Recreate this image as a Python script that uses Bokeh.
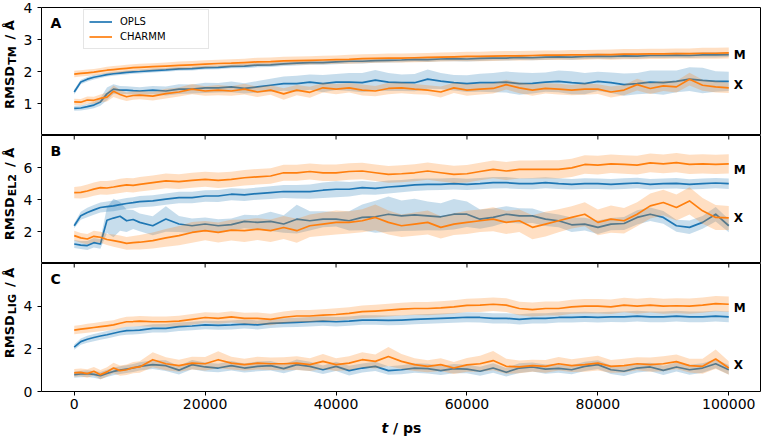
import math
import numpy as np
from bokeh.plotting import figure
from bokeh.layouts import column, row
from bokeh.models import Range1d, FixedTicker, Label, Legend, LegendItem
from bokeh.embed import file_html
from bokeh.resources import INLINE

# ---------------- data ----------------
t_ps = [0, 1000, 2000, 3000, 4000, 5000, 6000, 7000, 8000, 9000, 10000,
        12000, 14000, 16000, 18000, 20000, 22000, 24000, 26000, 28000,
        30000, 32000, 34000, 36000, 38000, 40000, 42000, 44000, 46000,
        48000, 50000, 52000, 54000, 56000, 58000, 60000, 62000, 64000,
        66000, 68000, 70000, 72000, 74000, 76000, 78000, 80000, 82000,
        84000, 86000, 88000, 90000, 92000, 94000, 96000, 98000, 100000]

# Panel A (RMSD TM)
opls_M_A = [1.36, 1.67, 1.76, 1.82, 1.86, 1.90, 1.93, 1.95, 1.97, 1.99, 2.00,
            2.03, 2.05, 2.08, 2.09, 2.12, 2.13, 2.16, 2.17, 2.20,
            2.21, 2.24, 2.26, 2.28, 2.28, 2.30, 2.32, 2.32, 2.34,
            2.35, 2.36, 2.38, 2.37, 2.39, 2.40, 2.39, 2.41, 2.42,
            2.42, 2.44, 2.43, 2.45, 2.46, 2.45, 2.47, 2.48, 2.47,
            2.49, 2.48, 2.50, 2.50, 2.51, 2.50, 2.52, 2.52, 2.53]
charmm_M_A = [1.92, 1.94, 1.96, 1.98, 2.01, 2.04, 2.06, 2.08, 2.10, 2.12, 2.13,
              2.15, 2.17, 2.19, 2.21, 2.23, 2.25, 2.26, 2.28, 2.30,
              2.31, 2.33, 2.34, 2.35, 2.36, 2.37, 2.38, 2.40, 2.41,
              2.42, 2.42, 2.43, 2.44, 2.45, 2.46, 2.47, 2.47, 2.48,
              2.49, 2.49, 2.50, 2.51, 2.51, 2.52, 2.52, 2.53, 2.53,
              2.54, 2.54, 2.55, 2.55, 2.56, 2.56, 2.57, 2.57, 2.58]
opls_X_A = [0.85, 0.86, 0.90, 0.95, 1.05, 1.30, 1.45, 1.42, 1.42, 1.40, 1.39,
            1.42, 1.39, 1.45, 1.45, 1.49, 1.49, 1.52, 1.47, 1.52,
            1.57, 1.62, 1.62, 1.67, 1.62, 1.67, 1.67, 1.65, 1.73,
            1.67, 1.65, 1.65, 1.76, 1.70, 1.65, 1.62, 1.65, 1.65,
            1.67, 1.62, 1.63, 1.67, 1.69, 1.65, 1.62, 1.69, 1.65,
            1.59, 1.62, 1.67, 1.65, 1.69, 1.76, 1.72, 1.69, 1.69]
charmm_X_A = [1.05, 1.04, 1.11, 1.10, 1.16, 1.20, 1.38, 1.28, 1.21, 1.25, 1.26,
              1.23, 1.31, 1.36, 1.45, 1.39, 1.42, 1.39, 1.45, 1.36,
              1.42, 1.30, 1.42, 1.35, 1.49, 1.45, 1.49, 1.42, 1.39,
              1.47, 1.49, 1.45, 1.42, 1.36, 1.49, 1.42, 1.45, 1.47,
              1.59, 1.49, 1.42, 1.47, 1.45, 1.42, 1.45, 1.45, 1.36,
              1.42, 1.59, 1.47, 1.55, 1.52, 1.76, 1.57, 1.52, 1.49]
sd_opls_M_A = [0.08, 0.07, 0.07, 0.07, 0.06, 0.06, 0.06, 0.06, 0.06, 0.06, 0.06,
               0.06, 0.06, 0.06, 0.06, 0.06, 0.06, 0.06, 0.07, 0.07,
               0.07, 0.07, 0.07, 0.07, 0.07, 0.07, 0.07, 0.07, 0.07,
               0.07, 0.07, 0.07, 0.07, 0.07, 0.08, 0.08, 0.08, 0.08,
               0.08, 0.08, 0.08, 0.08, 0.08, 0.08, 0.08, 0.08, 0.08,
               0.08, 0.08, 0.08, 0.08, 0.08, 0.08, 0.08, 0.08, 0.08]
sd_charmm_M_A = [0.10, 0.10, 0.10, 0.10, 0.10, 0.11, 0.11, 0.11, 0.11, 0.11, 0.11,
                 0.11, 0.11, 0.12, 0.12, 0.12, 0.12, 0.12, 0.12, 0.13,
                 0.13, 0.13, 0.13, 0.13, 0.13, 0.13, 0.14, 0.14, 0.14,
                 0.14, 0.14, 0.14, 0.14, 0.14, 0.14, 0.15, 0.15, 0.15,
                 0.15, 0.15, 0.15, 0.15, 0.15, 0.15, 0.15, 0.15, 0.16,
                 0.16, 0.16, 0.16, 0.16, 0.16, 0.16, 0.17, 0.17, 0.17]
sd_opls_X_A = [0.08, 0.08, 0.09, 0.10, 0.12, 0.20, 0.15, 0.13, 0.12, 0.12, 0.12,
               0.13, 0.14, 0.15, 0.14, 0.16, 0.15, 0.17, 0.16, 0.18,
               0.20, 0.22, 0.25, 0.24, 0.27, 0.25, 0.28, 0.30, 0.32,
               0.28, 0.26, 0.27, 0.30, 0.25, 0.24, 0.26, 0.28, 0.30,
               0.33, 0.35, 0.32, 0.30, 0.34, 0.36, 0.33, 0.30, 0.32,
               0.35, 0.33, 0.36, 0.38, 0.34, 0.37, 0.40, 0.32, 0.30]
sd_charmm_X_A = [0.10, 0.10, 0.11, 0.11, 0.12, 0.14, 0.18, 0.15, 0.13, 0.13, 0.13,
                 0.14, 0.15, 0.14, 0.16, 0.15, 0.16, 0.15, 0.17, 0.16,
                 0.15, 0.18, 0.16, 0.17, 0.15, 0.16, 0.15, 0.17, 0.16,
                 0.18, 0.17, 0.16, 0.15, 0.17, 0.16, 0.18, 0.17, 0.16,
                 0.15, 0.17, 0.18, 0.16, 0.17, 0.16, 0.18, 0.15, 0.17,
                 0.16, 0.18, 0.17, 0.16, 0.18, 0.20, 0.17, 0.18, 0.16]

# Panel B (RMSD EL2)
opls_M_B = [2.36, 2.98, 3.19, 3.35, 3.50, 3.55, 3.60, 3.68, 3.75, 3.80, 3.87,
            3.91, 4.02, 4.12, 4.12, 4.22, 4.22, 4.33, 4.29, 4.37,
            4.43, 4.50, 4.49, 4.49, 4.58, 4.64, 4.64, 4.74, 4.70,
            4.78, 4.84, 4.91, 4.95, 4.95, 4.99, 4.95, 4.99, 5.05,
            5.05, 4.99, 4.99, 5.05, 4.99, 4.95, 4.99, 4.99, 4.95,
            4.99, 5.03, 4.95, 4.99, 5.01, 4.95, 4.99, 5.03, 4.99]
charmm_M_B = [4.43, 4.45, 4.53, 4.65, 4.74, 4.72, 4.78, 4.85, 4.91, 4.88, 4.95,
              5.05, 5.16, 5.12, 5.20, 5.26, 5.20, 5.26, 5.36, 5.42,
              5.47, 5.67, 5.67, 5.75, 5.67, 5.67, 5.75, 5.78, 5.67,
              5.57, 5.61, 5.67, 5.78, 5.67, 5.57, 5.61, 5.75, 5.88,
              5.78, 5.88, 5.88, 5.88, 5.88, 5.98, 6.19, 6.15, 6.23,
              6.19, 6.15, 6.29, 6.23, 6.31, 6.19, 6.23, 6.19, 6.23]
opls_X_B = [1.22, 1.15, 1.12, 1.30, 1.22, 2.70, 2.84, 2.95, 2.67, 2.75, 2.57,
            2.36, 2.78, 2.47, 2.36, 2.47, 2.36, 2.43, 2.63, 2.57,
            2.63, 2.47, 2.77, 2.67, 2.77, 2.77, 2.67, 2.88, 2.92,
            3.08, 2.98, 3.04, 2.98, 2.92, 3.08, 3.08, 2.77, 2.88,
            3.08, 2.98, 2.98, 2.77, 2.67, 2.42, 2.46, 2.26, 2.46,
            2.50, 2.88, 3.08, 2.88, 2.36, 2.26, 2.57, 3.08, 2.36]
charmm_X_B = [1.74, 1.60, 1.53, 1.70, 1.64, 1.50, 1.43, 1.35, 1.26, 1.30, 1.33,
              1.43, 1.60, 1.74, 1.94, 2.05, 1.94, 2.09, 2.05, 2.15,
              2.05, 2.25, 2.05, 2.36, 2.46, 2.57, 2.57, 2.67, 2.88,
              2.57, 2.36, 2.46, 2.57, 2.26, 2.46, 2.57, 2.67, 2.77,
              2.57, 2.67, 2.26, 2.46, 2.67, 2.88, 3.08, 2.57, 2.77,
              2.67, 3.08, 3.60, 3.81, 3.50, 3.91, 3.29, 2.88, 2.85]
sd_opls_M_B = [0.15, 0.25, 0.30, 0.30, 0.32, 0.32, 0.33, 0.33, 0.34, 0.34, 0.35,
               0.35, 0.35, 0.36, 0.36, 0.36, 0.37, 0.37, 0.38, 0.38,
               0.40, 0.40, 0.42, 0.45, 0.48, 0.50, 0.45, 0.42, 0.40,
               0.40, 0.38, 0.38, 0.37, 0.36, 0.36, 0.35, 0.35, 0.36,
               0.35, 0.34, 0.35, 0.34, 0.34, 0.33, 0.34, 0.33, 0.33,
               0.34, 0.33, 0.33, 0.32, 0.33, 0.32, 0.33, 0.32, 0.33]
sd_charmm_M_B = [0.35, 0.38, 0.40, 0.42, 0.42, 0.43, 0.43, 0.44, 0.44, 0.45, 0.45,
                 0.45, 0.46, 0.46, 0.47, 0.47, 0.48, 0.48, 0.48, 0.49,
                 0.49, 0.50, 0.50, 0.50, 0.51, 0.51, 0.52, 0.52, 0.52,
                 0.53, 0.53, 0.53, 0.54, 0.54, 0.54, 0.55, 0.55, 0.55,
                 0.56, 0.56, 0.56, 0.57, 0.57, 0.57, 0.58, 0.58, 0.58,
                 0.58, 0.59, 0.59, 0.59, 0.60, 0.60, 0.60, 0.60, 0.60]
sd_opls_X_B = [0.25, 0.25, 0.28, 0.30, 0.30, 0.80, 1.20, 0.90, 0.70, 0.60, 0.55,
               0.60, 0.80, 0.50, 0.45, 0.40, 0.40, 0.38, 0.42, 0.45,
               0.60, 0.55, 0.90, 0.60, 0.50, 0.45, 0.60, 0.80, 1.00,
               1.10, 0.95, 1.00, 0.90, 0.85, 0.95, 0.80, 0.60, 0.55,
               0.50, 0.48, 0.45, 0.42, 0.40, 0.45, 0.40, 0.42, 0.38,
               0.40, 0.45, 0.42, 0.40, 0.38, 0.42, 0.40, 0.45, 0.40]
sd_charmm_X_B = [0.30, 0.30, 0.32, 0.35, 0.35, 0.35, 0.38, 0.40, 0.40, 0.42, 0.45,
                 0.50, 0.55, 0.60, 0.65, 0.60, 0.62, 0.65, 0.70, 0.68,
                 0.70, 0.72, 0.75, 0.70, 0.72, 0.75, 0.70, 0.72, 0.80,
                 0.75, 0.70, 0.72, 0.75, 0.70, 0.68, 0.72, 0.70, 0.75,
                 0.72, 0.70, 0.75, 0.78, 0.72, 0.70, 0.75, 0.80, 0.85,
                 0.80, 0.75, 0.78, 0.80, 0.82, 0.85, 0.80, 0.78, 0.75]

# Panel C (RMSD LIG)
opls_M_C = [2.08, 2.34, 2.45, 2.53, 2.60, 2.66, 2.73, 2.80, 2.85, 2.86, 2.88,
            2.96, 2.96, 3.04, 3.07, 3.12, 3.10, 3.12, 3.16, 3.12,
            3.19, 3.22, 3.24, 3.27, 3.30, 3.27, 3.30, 3.35, 3.35,
            3.33, 3.35, 3.38, 3.40, 3.43, 3.45, 3.48, 3.47, 3.43,
            3.43, 3.38, 3.43, 3.43, 3.47, 3.47, 3.50, 3.47, 3.50,
            3.50, 3.53, 3.50, 3.50, 3.53, 3.50, 3.50, 3.53, 3.50]
charmm_M_C = [2.88, 2.92, 2.96, 3.00, 3.04, 3.08, 3.12, 3.20, 3.27, 3.28, 3.30,
              3.27, 3.27, 3.30, 3.38, 3.47, 3.43, 3.50, 3.43, 3.43,
              3.38, 3.48, 3.54, 3.54, 3.58, 3.61, 3.66, 3.74, 3.77,
              3.81, 3.86, 3.89, 3.89, 3.92, 3.97, 4.04, 4.05, 4.09,
              4.05, 3.89, 3.84, 3.89, 3.89, 3.97, 4.00, 4.00, 3.97,
              4.05, 4.00, 4.05, 4.00, 4.02, 4.00, 4.05, 4.12, 4.09]
opls_X_C = [0.79, 0.82, 0.84, 0.80, 0.74, 0.85, 0.94, 1.00, 1.05, 1.10, 1.18,
            1.26, 1.21, 1.00, 1.26, 1.15, 1.10, 1.21, 1.10, 1.18,
            1.21, 1.07, 1.26, 1.18, 1.02, 1.18, 0.98, 1.10, 1.18,
            0.98, 1.02, 1.10, 1.07, 0.98, 1.07, 1.05, 0.95, 1.10,
            0.90, 1.10, 1.15, 1.05, 1.08, 1.02, 1.18, 1.26, 1.02,
            0.95, 1.10, 1.15, 0.99, 1.15, 1.02, 1.10, 1.30, 1.02]
charmm_X_C = [0.87, 0.90, 0.84, 0.95, 0.79, 0.92, 1.10, 0.98, 1.02, 1.12, 1.15,
              1.49, 1.30, 1.21, 1.33, 1.30, 1.49, 1.33, 1.26, 1.33,
              1.30, 1.30, 1.33, 1.26, 1.41, 1.26, 1.33, 1.49, 1.41,
              1.64, 1.41, 1.26, 1.18, 1.26, 1.10, 1.25, 1.30, 1.45,
              1.18, 1.15, 1.21, 1.18, 1.30, 1.21, 1.26, 1.33, 1.18,
              1.21, 1.30, 1.26, 1.30, 1.40, 1.21, 1.18, 1.52, 1.10]
sd_opls_M_C = [0.12, 0.15, 0.16, 0.17, 0.17, 0.18, 0.18, 0.18, 0.19, 0.19, 0.19,
               0.19, 0.20, 0.20, 0.20, 0.20, 0.21, 0.21, 0.21, 0.21,
               0.21, 0.21, 0.22, 0.22, 0.22, 0.22, 0.22, 0.22, 0.22,
               0.23, 0.23, 0.23, 0.23, 0.23, 0.23, 0.23, 0.23, 0.24,
               0.24, 0.24, 0.24, 0.24, 0.24, 0.24, 0.24, 0.24, 0.24,
               0.25, 0.25, 0.25, 0.25, 0.25, 0.25, 0.25, 0.25, 0.25]
sd_charmm_M_C = [0.20, 0.20, 0.21, 0.21, 0.22, 0.22, 0.22, 0.23, 0.23, 0.23, 0.24,
                 0.24, 0.24, 0.25, 0.25, 0.25, 0.26, 0.26, 0.26, 0.27,
                 0.27, 0.27, 0.28, 0.28, 0.28, 0.29, 0.29, 0.29, 0.30,
                 0.30, 0.30, 0.30, 0.31, 0.31, 0.31, 0.31, 0.32, 0.32,
                 0.32, 0.32, 0.33, 0.33, 0.33, 0.33, 0.34, 0.34, 0.34,
                 0.34, 0.35, 0.35, 0.35, 0.35, 0.36, 0.36, 0.36, 0.36]
sd_opls_X_C = [0.15, 0.15, 0.16, 0.16, 0.17, 0.17, 0.18, 0.18, 0.18, 0.19, 0.19,
               0.20, 0.25, 0.20, 0.22, 0.21, 0.20, 0.22, 0.21, 0.23,
               0.22, 0.21, 0.24, 0.22, 0.20, 0.22, 0.23, 0.21, 0.22,
               0.20, 0.21, 0.22, 0.23, 0.21, 0.22, 0.20, 0.21, 0.22,
               0.20, 0.23, 0.21, 0.22, 0.20, 0.21, 0.22, 0.21, 0.20,
               0.22, 0.21, 0.20, 0.22, 0.21, 0.23, 0.22, 0.21, 0.22]
sd_charmm_X_C = [0.18, 0.18, 0.20, 0.20, 0.22, 0.22, 0.25, 0.24, 0.25, 0.26, 0.27,
                 0.35, 0.30, 0.28, 0.30, 0.32, 0.40, 0.30, 0.28, 0.30,
                 0.29, 0.30, 0.32, 0.30, 0.35, 0.30, 0.32, 0.35, 0.33,
                 0.45, 0.35, 0.30, 0.28, 0.30, 0.28, 0.32, 0.38, 0.45,
                 0.35, 0.30, 0.28, 0.30, 0.32, 0.30, 0.33, 0.35, 0.30,
                 0.32, 0.30, 0.33, 0.35, 0.34, 0.32, 0.35, 0.45, 0.32]

series_names = ["OPLS", "CHARMM"]
panel_letters = ["A", "B", "C"]
subscripts = ["TM", "EL2", "LIG"]
x_ticks = [0, 20000, 40000, 60000, 80000, 100000]
x_tick_labels = ["0", "20000", "40000", "60000", "80000", "100000"]
y_ticks = [[1, 2, 3, 4], [2, 4, 6], [0, 2, 4]]
y_tick_labels = [["1", "2", "3", "4"], ["2", "4", "6"], ["0", "2", "4"]]
y_limits = [(0, 4), (0, 8), (0, 6)]
x_limits = (-5000, 105000)
x_label_main = "t"
x_label_unit = "/ ps"

# placement of the "M" / "X" end labels (data units) per panel
label_y_M = [2.53, 5.84, 3.92]
label_y_X = [1.57, 2.86, 1.22]
label_x_end = 100000

# ---------------- style / layout ----------------
BLUE = "#1f77b4"
ORANGE = "#ff7f0e"
FONT = "DejaVu Sans"
LABEL_W = 20          # column holding the rotated y labels
MAIN_W = 741          # main panels (frame from x=41 to x=761)
LEFT_BORDER = 21
TOP_BORDER = 7
FRAME_H = 128
BOTTOM_AXIS = 25
XLABEL_H = 21
YLABEL_BELOW = [37.5, 40.8, 30.8]

ADV = {'R': 0.773, 'M': 0.996, 'S': 0.720, 'D': 0.828, 'T': 0.683, 'E': 0.683,
       'L': 0.638, 'I': 0.372, 'G': 0.820, '2': 0.696, '/': 0.366, ' ': 0.348, 'Å': 0.774}


def tw(s, size):
    return sum(ADV[c] for c in s) * size


def blank_fig(width, height, xr, yr, left=0):
    f = figure(width=width, height=height, x_range=xr, y_range=yr,
               x_axis_location=None, y_axis_location=None,
               output_backend="svg", toolbar_location=None,
               min_border=0, min_border_left=left, min_border_right=0,
               min_border_top=0, min_border_bottom=0)
    f.grid.visible = False
    f.outline_line_color = None
    return f


panels = [
    (opls_M_A, sd_opls_M_A, opls_X_A, sd_opls_X_A, charmm_M_A, sd_charmm_M_A, charmm_X_A, sd_charmm_X_A),
    (opls_M_B, sd_opls_M_B, opls_X_B, sd_opls_X_B, charmm_M_B, sd_charmm_M_B, charmm_X_B, sd_charmm_X_B),
    (opls_M_C, sd_opls_M_C, opls_X_C, sd_opls_X_C, charmm_M_C, sd_charmm_M_C, charmm_X_C, sd_charmm_X_C),
]

x_range = Range1d(*x_limits)
t = np.array(t_ps, dtype=float)
main_figs = []
label_figs = []
for i in range(3):
    is_first = i == 0
    is_last = i == 2
    top_border = TOP_BORDER if is_first else 0
    bottom_border = BOTTOM_AXIS if is_last else 0
    p = figure(width=MAIN_W, height=FRAME_H + top_border + bottom_border,
               x_range=x_range, y_range=Range1d(*y_limits[i]),
               x_axis_location="below" if is_last else None,
               output_backend="svg", toolbar_location=None,
               min_border=0, min_border_left=LEFT_BORDER, min_border_right=0,
               min_border_top=top_border, min_border_bottom=bottom_border)
    p.grid.visible = False
    p.outline_line_color = "black"
    p.outline_line_width = 1
    p.outline_line_alpha = 1

    yax = p.yaxis[0]
    yax.ticker = FixedTicker(ticks=y_ticks[i], minor_ticks=[])
    yax.major_label_overrides = dict(zip(y_ticks[i], y_tick_labels[i]))
    yax.major_label_text_font = FONT
    yax.major_label_text_font_size = "14px"
    yax.major_label_text_color = "black"
    yax.major_label_standoff = 5
    yax.major_tick_out = 4
    yax.major_tick_in = 0
    yax.major_tick_line_color = "black"
    yax.axis_line_color = None

    if is_last:
        xax = p.xaxis[0]
        xax.ticker = FixedTicker(ticks=x_ticks, minor_ticks=[])
        xax.major_label_overrides = dict(zip(x_ticks, x_tick_labels))
        xax.major_label_text_font = FONT
        xax.major_label_text_font_size = "14px"
        xax.major_label_text_color = "black"
        xax.major_label_standoff = 3
        xax.major_tick_out = 4
        xax.major_tick_in = 0
        xax.major_tick_line_color = "black"
        xax.axis_line_color = None
    if not is_first:
        # ticks of the panel above, reaching into this panel (half of the dash is clipped)
        p.scatter(x=x_ticks, y=[y_limits[i][1]] * len(x_ticks), marker="dash",
                  angle=math.pi / 2, size=8, line_color="black", line_width=1)

    oM, soM, oX, soX, cM, scM, cX, scX = [np.array(a, dtype=float) for a in panels[i]]
    line_renderers = {}
    for name, color, M, sM, X, sX in (("OPLS", BLUE, oM, soM, oX, soX),
                                      ("CHARMM", ORANGE, cM, scM, cX, scX)):
        p.varea(x=t, y1=M - sM, y2=M + sM, fill_color=color, fill_alpha=0.25)
        r = p.line(t, M, line_color=color, line_width=1.7, line_join="round")
        p.varea(x=t, y1=X - sX, y2=X + sX, fill_color=color, fill_alpha=0.25)
        p.line(t, X, line_color=color, line_width=1.7, line_join="round")
        line_renderers[name] = r

    for txt, yv in (("M", label_y_M[i]), ("X", label_y_X[i])):
        p.add_layout(Label(x=label_x_end, y=yv, x_offset=5, text=txt,
                           text_font=FONT, text_font_size="12px", text_font_style="bold",
                           text_baseline="middle", text_align="left", text_color="black"))
    p.add_layout(Label(x=x_limits[0], y=y_limits[i][1], x_offset=9, y_offset=-15,
                       text=panel_letters[i], text_font=FONT, text_font_size="14px",
                       text_font_style="bold", text_baseline="middle", text_color="black"))

    if is_first:
        legend = Legend(items=[LegendItem(label=series_names[0], renderers=[line_renderers["OPLS"]]),
                               LegendItem(label=series_names[1], renderers=[line_renderers["CHARMM"]])],
                        location=(42, FRAME_H - 4 - 38), margin=0, padding=5, spacing=2,
                        glyph_width=23, glyph_height=13, label_height=13, label_width=83,
                        label_standoff=8, label_text_font=FONT, label_text_font_size="10px",
                        label_text_color="black", border_line_color="#cccccc",
                        border_line_width=1, background_fill_alpha=0.8)
        p.add_layout(legend)
    main_figs.append(p)

    # rotated y label "RMSD_sub / Å" in its own narrow figure (centre-anchored pieces)
    lh = FRAME_H + top_border
    lf = blank_fig(LABEL_W, lh, Range1d(0, LABEL_W), Range1d(0, lh))
    yc = FRAME_H / 2
    common = dict(angle=math.pi / 2, text_align="center", text_baseline="middle",
                  text_font=FONT, text_font_style="bold", text_color="black")
    s0 = yc - YLABEL_BELOW[i]
    w0 = tw("RMSD", 13)
    lf.add_layout(Label(x=14 - 4.6, y=s0 + w0 / 2, text="RMSD", text_font_size="13px", **common))
    s1 = s0 + w0 + 1
    w1 = tw(subscripts[i], 11)
    lf.add_layout(Label(x=16 - 3.9, y=s1 + w1 / 2, text=subscripts[i], text_font_size="11px", **common))
    s2 = s1 + w1 + 7
    w2 = tw("/ Å", 13)
    lf.add_layout(Label(x=14 - 4.6, y=s2 + w2 / 2, text="/ Å", text_font_size="13px", **common))
    label_figs.append(lf)

# x label "t / ps" in its own strip under the bottom panel (centre-anchored vertically)
xf = blank_fig(MAIN_W, XLABEL_H, Range1d(*x_limits), Range1d(0, XLABEL_H), left=LEFT_BORDER)
xf.add_layout(Label(x=50000, y=10, x_offset=-20, text=x_label_main,
                    text_font=FONT, text_font_size="14px", text_font_style="bold italic",
                    text_baseline="middle", text_color="black"))
xf.add_layout(Label(x=50000, y=10, x_offset=-20 + 0.478 * 14 + 0.348 * 14, text=x_label_unit,
                    text_font=FONT, text_font_size="14px", text_font_style="bold",
                    text_baseline="middle", text_color="black"))

layout = row(column(*label_figs, spacing=0), column(*main_figs, xf, spacing=0), spacing=0)
open("out.html", "w").write(file_html(layout, INLINE))
